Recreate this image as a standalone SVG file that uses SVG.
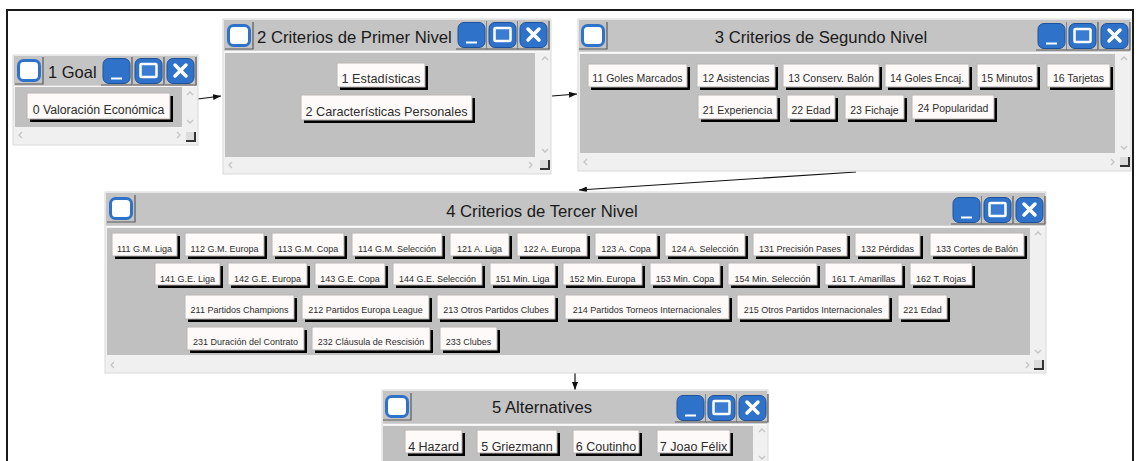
<svg xmlns="http://www.w3.org/2000/svg" width="1139" height="461" viewBox="0 0 1139 461">
  <style>
    text { font-family: "Liberation Sans", Arial, sans-serif; fill: #2e2e2e; }
    .ttl { font-size: 16.7px; fill: #1a1a1a; }
    .win { fill: #f0f0f0; stroke: #dadada; stroke-width: 1; }
    .bar { fill: #c4c4c4; }
    .pane { fill: #c0c0c0; }
    .sep { stroke: #fafafa; stroke-width: 1.5; }
    .sh { fill: #000; }
    .bf { fill: #fdfaf9; stroke: #b9b3b3; stroke-width: 1; }
    .f9 { font-size: 9px; text-anchor: middle; }
    .f10 { font-size: 10.5px; text-anchor: middle; }
    .f12 { font-size: 12.5px; text-anchor: middle; }
    .f13 { font-size: 12.7px; text-anchor: middle; }
    .chev { fill: none; stroke: #c4c4c4; stroke-width: 1.3; }
    .link { fill: none; stroke: #111; stroke-width: 1.2; }
    .frame { fill: none; stroke: #1a1a1a; stroke-width: 2; }
  </style>
  <defs>
    <marker id="arrow" markerWidth="8" markerHeight="6" refX="8" refY="3" orient="auto" markerUnits="userSpaceOnUse">
      <path d="M0,0 L8,3 L0,6 z" fill="#111"/>
    </marker>
    <!-- window icon at the left of each title bar -->
    <g id="ico">
      <rect x="0" y="0" width="28" height="27" fill="#c4c4c4"/>
      <path d="M28,0 V27 H0" fill="none" stroke="#5a5a5a" stroke-width="1.2"/>
      <rect x="3.5" y="3.5" width="21" height="20" rx="5" fill="#ffffff" stroke="#2f72c9" stroke-width="3"/>
    </g>
    <!-- title bar control buttons -->
    <g id="cell">
      <rect x="0" y="0" width="31" height="28" fill="#c4c4c4"/>
      <path d="M31,0 V28 H0" fill="none" stroke="#5a5a5a" stroke-width="1.2"/>
      <rect x="2" y="1.5" width="27" height="25" rx="6" fill="#2f72c9" stroke="#1d5299" stroke-width="1"/>
    </g>
    <g id="bmin">
      <use href="#cell"/>
      <path d="M10,21.5 H21" stroke="#fff" stroke-width="2"/>
    </g>
    <g id="bmax">
      <use href="#cell"/>
      <rect x="7.5" y="7" width="16" height="13" rx="1" fill="#3a7cd2" stroke="#fff" stroke-width="2.5"/>
    </g>
    <g id="bcls">
      <use href="#cell"/>
      <path d="M10,8 L21,19 M21,8 L10,19" stroke="#fff" stroke-width="3.5" stroke-linecap="round"/>
    </g>
    <!-- scrollbar arrows and resize grip -->
    <path id="up" class="chev" d="M-3,2 L0,-1 L3,2"/>
    <path id="dn" class="chev" d="M-3,-1 L0,2 L3,-1"/>
    <path id="lf" class="chev" d="M2,-3 L-1,0 L2,3"/>
    <path id="rt" class="chev" d="M-1,-3 L2,0 L-1,3"/>
    <g id="grip">
      <rect x="0" y="0" width="9" height="9" fill="#dcdcdc"/>
      <path d="M9,0 V9 H0" fill="none" stroke="#333" stroke-width="2"/>
    </g>
  </defs>

  <rect x="0" y="0" width="1139" height="461" fill="#ffffff"/>
  <path class="frame" d="M7,470 V10 H1133 V470"/>

  <!-- connectors -->
  <g id="connectors">
    <path class="link" d="M198,99 L221,96" marker-end="url(#arrow)"/>
    <path class="link" d="M552,96 L577,94" marker-end="url(#arrow)"/>
    <path class="link" d="M856,172 L579,190" marker-end="url(#arrow)"/>
    <path class="link" d="M575,372 L575,390" marker-end="url(#arrow)"/>
  </g>

  <!-- 1 Goal -->
  <g id="goal">
    <rect class="win" x="13" y="55" width="185" height="90"/>
    <rect class="bar" x="14" y="56" width="183" height="30"/>
    <line class="sep" x1="14" y1="86.5" x2="197" y2="86.5"/>
    <rect class="pane" x="15" y="87" width="167" height="40"/>
    <use href="#ico" x="15" y="57"/>
    <text class="ttl" x="48" y="77.5" style="font-size:16.5px">1 Goal</text>
    <use href="#bmin" x="101" y="57"/>
    <use href="#bmax" x="133" y="57"/>
    <use href="#bcls" x="165" y="57"/>
    <use href="#up" x="190" y="93"/>
    <use href="#dn" x="190" y="121"/>
    <use href="#lf" x="20" y="135"/>
    <use href="#rt" x="178" y="135"/>
    <use href="#grip" x="186" y="132"/>
    <g id="n0">
      <rect class="sh" x="30" y="96" width="143" height="26"/>
      <rect class="bf" x="27" y="93" width="143" height="26"/>
      <text class="f12" x="98.5" y="114" style="font-size:12.3px">0 Valoración Económica</text>
    </g>
  </g>

  <!-- 2 Criterios de Primer Nivel -->
  <g id="nivel1">
    <rect class="win" x="223" y="19" width="328" height="155"/>
    <rect class="bar" x="224" y="20" width="326" height="31"/>
    <line class="sep" x1="224" y1="51.5" x2="550" y2="51.5"/>
    <rect class="pane" x="225" y="53" width="310" height="104"/>
    <use href="#ico" x="225" y="22"/>
    <text class="ttl" x="257" y="43">2 Criterios de Primer Nivel</text>
    <use href="#bmin" x="456" y="21"/>
    <use href="#bmax" x="487" y="21"/>
    <use href="#bcls" x="518" y="21"/>
    <use href="#up" x="545" y="58"/>
    <use href="#dn" x="545" y="150"/>
    <use href="#lf" x="230" y="165"/>
    <use href="#rt" x="530" y="165"/>
    <use href="#grip" x="540" y="160"/>
    <g id="n1">
      <rect class="sh" x="340" y="66" width="88" height="24"/>
      <rect class="bf" x="337" y="63" width="88" height="24"/>
      <text class="f13" x="381" y="82.5">1 Estadísticas</text>
    </g>
    <g id="n2">
      <rect class="sh" x="304" y="98" width="171" height="25"/>
      <rect class="bf" x="301" y="95" width="171" height="25"/>
      <text class="f13" x="386.5" y="115.5">2 Características Personales</text>
    </g>
  </g>

  <!-- 3 Criterios de Segundo Nivel -->
  <g id="nivel2">
    <rect class="win" x="578" y="19" width="553" height="152"/>
    <rect class="bar" x="579" y="20" width="551" height="32"/>
    <line class="sep" x1="579" y1="52.5" x2="1130" y2="52.5"/>
    <rect class="pane" x="580" y="54" width="535" height="99"/>
    <use href="#ico" x="579" y="22"/>
    <text class="ttl" x="821" y="43" text-anchor="middle">3 Criterios de Segundo Nivel</text>
    <use href="#bmin" x="1036" y="22"/>
    <use href="#bmax" x="1067" y="22"/>
    <use href="#bcls" x="1099" y="22"/>
    <use href="#up" x="1124" y="58"/>
    <use href="#dn" x="1124" y="147"/>
    <use href="#lf" x="585" y="162"/>
    <use href="#rt" x="1112" y="162"/>
    <use href="#grip" x="1120" y="157"/>
    <g id="n11"><rect class="sh" x="591" y="67" width="99" height="23"/><rect class="bf" x="588" y="64" width="99" height="23"/><text class="f10" x="637.5" y="82">11 Goles Marcados</text></g>
    <g id="n12"><rect class="sh" x="700" y="67" width="78" height="23"/><rect class="bf" x="697" y="64" width="78" height="23"/><text class="f10" x="736" y="82">12 Asistencias</text></g>
    <g id="n13"><rect class="sh" x="786" y="67" width="96" height="23"/><rect class="bf" x="783" y="64" width="96" height="23"/><text class="f10" x="831" y="82">13 Conserv. Balón</text></g>
    <g id="n14"><rect class="sh" x="888" y="67" width="84" height="23"/><rect class="bf" x="885" y="64" width="84" height="23"/><text class="f10" x="927" y="82">14 Goles Encaj.</text></g>
    <g id="n15"><rect class="sh" x="980" y="67" width="60" height="23"/><rect class="bf" x="977" y="64" width="60" height="23"/><text class="f10" x="1007" y="82">15 Minutos</text></g>
    <g id="n16"><rect class="sh" x="1050" y="67" width="63" height="23"/><rect class="bf" x="1047" y="64" width="63" height="23"/><text class="f10" x="1078.5" y="82">16 Tarjetas</text></g>
    <g id="n21"><rect class="sh" x="701" y="98" width="79" height="24"/><rect class="bf" x="698" y="95" width="79" height="24"/><text class="f10" x="737.5" y="114">21 Experiencia</text></g>
    <g id="n22"><rect class="sh" x="790" y="98" width="48" height="24"/><rect class="bf" x="787" y="95" width="48" height="24"/><text class="f10" x="811" y="114">22 Edad</text></g>
    <g id="n23"><rect class="sh" x="848" y="98" width="59" height="24"/><rect class="bf" x="845" y="95" width="59" height="24"/><text class="f10" x="874.5" y="114">23 Fichaje</text></g>
    <g id="n24"><rect class="sh" x="915" y="98" width="82" height="24"/><rect class="bf" x="912" y="95" width="82" height="24"/><text class="f10" x="953" y="112">24 Popularidad</text></g>
  </g>

  <!-- 4 Criterios de Tercer Nivel -->
  <g id="nivel3">
    <rect class="win" x="105" y="192" width="941" height="181"/>
    <rect class="bar" x="106" y="193" width="939" height="33"/>
    <line class="sep" x1="106" y1="226.5" x2="1045" y2="226.5"/>
    <rect class="pane" x="107" y="228" width="923" height="127"/>
    <use href="#ico" x="107" y="195"/>
    <text class="ttl" x="542" y="217" text-anchor="middle">4 Criterios de Tercer Nivel</text>
    <use href="#bmin" x="951" y="196"/>
    <use href="#bmax" x="982" y="196"/>
    <use href="#bcls" x="1014" y="196"/>
    <use href="#up" x="1038" y="233"/>
    <use href="#dn" x="1038" y="351"/>
    <use href="#lf" x="112" y="365"/>
    <use href="#rt" x="1027" y="365"/>
    <use href="#grip" x="1034" y="360"/>
    <!-- row 1 -->
    <g id="n111"><rect class="sh" x="115" y="236" width="65" height="23"/><rect class="bf" x="112" y="233" width="65" height="23"/><text class="f9" x="144.5" y="251.5">111 G.M. Liga</text></g>
    <g id="n112"><rect class="sh" x="188" y="236" width="79" height="23"/><rect class="bf" x="185" y="233" width="79" height="23"/><text class="f9" x="224.5" y="251.5">112 G.M. Europa</text></g>
    <g id="n113"><rect class="sh" x="275" y="236" width="72" height="23"/><rect class="bf" x="272" y="233" width="72" height="23"/><text class="f9" x="308" y="251.5">113 G.M. Copa</text></g>
    <g id="n114"><rect class="sh" x="355" y="236" width="90" height="23"/><rect class="bf" x="352" y="233" width="90" height="23"/><text class="f9" x="397" y="251.5">114 G.M. Selección</text></g>
    <g id="n121"><rect class="sh" x="453" y="236" width="59" height="23"/><rect class="bf" x="450" y="233" width="59" height="23"/><text class="f9" x="479.5" y="251.5">121 A. Liga</text></g>
    <g id="n122"><rect class="sh" x="520" y="236" width="70" height="23"/><rect class="bf" x="517" y="233" width="70" height="23"/><text class="f9" x="552" y="251.5">122 A. Europa</text></g>
    <g id="n123"><rect class="sh" x="598" y="236" width="62" height="23"/><rect class="bf" x="595" y="233" width="62" height="23"/><text class="f9" x="626" y="251.5">123 A. Copa</text></g>
    <g id="n124"><rect class="sh" x="668" y="236" width="80" height="23"/><rect class="bf" x="665" y="233" width="80" height="23"/><text class="f9" x="705" y="251.5">124 A. Selección</text></g>
    <g id="n131"><rect class="sh" x="756" y="236" width="94" height="23"/><rect class="bf" x="753" y="233" width="94" height="23"/><text class="f9" x="800" y="251.5">131 Precisión Pases</text></g>
    <g id="n132"><rect class="sh" x="858" y="236" width="65" height="23"/><rect class="bf" x="855" y="233" width="65" height="23"/><text class="f9" x="887.5" y="251.5">132 Pérdidas</text></g>
    <g id="n133"><rect class="sh" x="933" y="236" width="94" height="23"/><rect class="bf" x="930" y="233" width="94" height="23"/><text class="f9" x="977" y="251.5">133 Cortes de Balón</text></g>
    <!-- row 2 -->
    <g id="n141"><rect class="sh" x="158" y="266" width="65" height="22"/><rect class="bf" x="155" y="263" width="65" height="22"/><text class="f9" x="187.5" y="281.5">141 G.E. Liga</text></g>
    <g id="n142"><rect class="sh" x="231" y="266" width="79" height="22"/><rect class="bf" x="228" y="263" width="79" height="22"/><text class="f9" x="267.5" y="281.5">142 G.E. Europa</text></g>
    <g id="n143"><rect class="sh" x="318" y="266" width="70" height="22"/><rect class="bf" x="315" y="263" width="70" height="22"/><text class="f9" x="350" y="281.5">143 G.E. Copa</text></g>
    <g id="n144"><rect class="sh" x="396" y="266" width="89" height="22"/><rect class="bf" x="393" y="263" width="89" height="22"/><text class="f9" x="437.5" y="281.5">144 G.E. Selección</text></g>
    <g id="n151"><rect class="sh" x="493" y="266" width="65" height="22"/><rect class="bf" x="490" y="263" width="65" height="22"/><text class="f9" x="522.5" y="281.5">151 Min. Liga</text></g>
    <g id="n152"><rect class="sh" x="566" y="266" width="79" height="22"/><rect class="bf" x="563" y="263" width="79" height="22"/><text class="f9" x="602.5" y="281.5">152 Min. Europa</text></g>
    <g id="n153"><rect class="sh" x="653" y="266" width="70" height="22"/><rect class="bf" x="650" y="263" width="70" height="22"/><text class="f9" x="685" y="281.5">153 Min. Copa</text></g>
    <g id="n154"><rect class="sh" x="731" y="266" width="89" height="22"/><rect class="bf" x="728" y="263" width="89" height="22"/><text class="f9" x="772.5" y="281.5">154 Min. Selección</text></g>
    <g id="n161"><rect class="sh" x="828" y="266" width="77" height="22"/><rect class="bf" x="825" y="263" width="77" height="22"/><text class="f9" x="863.5" y="281.5">161 T. Amarillas</text></g>
    <g id="n162"><rect class="sh" x="913" y="266" width="62" height="22"/><rect class="bf" x="910" y="263" width="62" height="22"/><text class="f9" x="941" y="281.5">162 T. Rojas</text></g>
    <!-- row 3 -->
    <g id="n211"><rect class="sh" x="188" y="298" width="109" height="24"/><rect class="bf" x="185" y="295" width="109" height="24"/><text class="f9" x="239.5" y="313">211 Partidos Champions</text></g>
    <g id="n212"><rect class="sh" x="305" y="298" width="127" height="24"/><rect class="bf" x="302" y="295" width="127" height="24"/><text class="f9" x="365.5" y="313">212 Partidos Europa League</text></g>
    <g id="n213"><rect class="sh" x="440" y="298" width="118" height="24"/><rect class="bf" x="437" y="295" width="118" height="24"/><text class="f9" x="496" y="313">213 Otros Partidos Clubes</text></g>
    <g id="n214"><rect class="sh" x="568" y="298" width="164" height="24"/><rect class="bf" x="565" y="295" width="164" height="24"/><text class="f9" x="647" y="313">214 Partidos Torneos Internacionales</text></g>
    <g id="n215"><rect class="sh" x="740" y="298" width="152" height="24"/><rect class="bf" x="737" y="295" width="152" height="24"/><text class="f9" x="813" y="313">215 Otros Partidos Internacionales</text></g>
    <g id="n221"><rect class="sh" x="901" y="298" width="49" height="24"/><rect class="bf" x="898" y="295" width="49" height="24"/><text class="f9" x="922.5" y="313">221 Edad</text></g>
    <!-- row 4 -->
    <g id="n231"><rect class="sh" x="190" y="330" width="117" height="23"/><rect class="bf" x="187" y="327" width="117" height="23"/><text class="f9" x="245.5" y="345">231 Duración del Contrato</text></g>
    <g id="n232"><rect class="sh" x="315" y="330" width="118" height="23"/><rect class="bf" x="312" y="327" width="118" height="23"/><text class="f9" x="371" y="345">232 Cláusula de Rescisión</text></g>
    <g id="n233"><rect class="sh" x="443" y="330" width="57" height="23"/><rect class="bf" x="440" y="327" width="57" height="23"/><text class="f9" x="468.5" y="345">233 Clubes</text></g>
  </g>

  <!-- 5 Alternatives -->
  <g id="alternatives">
    <rect class="win" x="382" y="390" width="386" height="80"/>
    <rect class="bar" x="383" y="391" width="384" height="33"/>
    <line class="sep" x1="383" y1="424.5" x2="767" y2="424.5"/>
    <rect class="pane" x="383" y="426" width="370" height="40"/>
    <use href="#ico" x="383" y="393"/>
    <text class="ttl" x="542" y="413" text-anchor="middle">5 Alternatives</text>
    <use href="#bmin" x="675" y="394"/>
    <use href="#bmax" x="706" y="394"/>
    <use href="#bcls" x="737" y="394"/>
    <use href="#up" x="762" y="430"/>
    <use href="#dn" x="762" y="457"/>
    <g id="a4"><rect class="sh" x="408" y="433" width="57" height="23"/><rect class="bf" x="405" y="430" width="57" height="23"/><text class="f12" x="433.5" y="451">4 Hazard</text></g>
    <g id="a5"><rect class="sh" x="480" y="433" width="80" height="23"/><rect class="bf" x="477" y="430" width="80" height="23"/><text class="f12" x="517" y="451">5 Griezmann</text></g>
    <g id="a6"><rect class="sh" x="576" y="433" width="66" height="23"/><rect class="bf" x="573" y="430" width="66" height="23"/><text class="f12" x="606" y="451">6 Coutinho</text></g>
    <g id="a7"><rect class="sh" x="660" y="433" width="73" height="23"/><rect class="bf" x="657" y="430" width="73" height="23"/><text class="f12" x="693.5" y="451">7 Joao Félix</text></g>
  </g>
</svg>
